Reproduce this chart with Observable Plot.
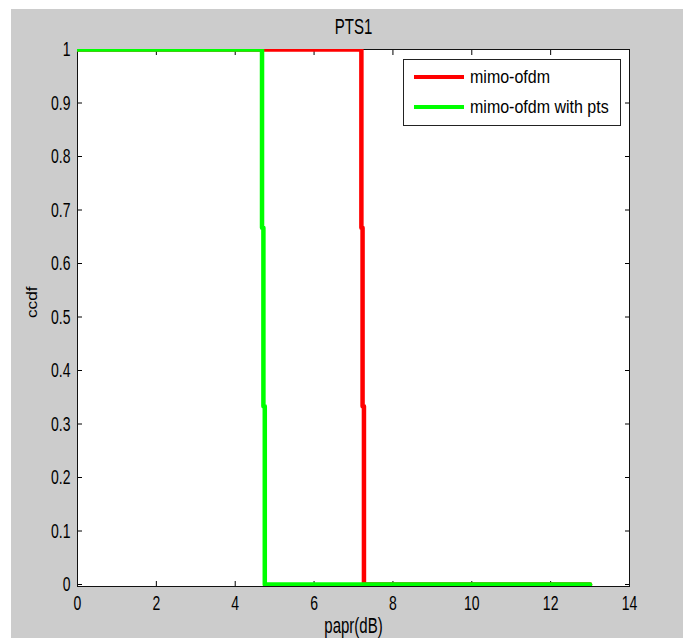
<!DOCTYPE html>
<html>
<head>
<meta charset="utf-8">
<script src="https://cdn.jsdelivr.net/npm/d3@7"></script>
<script src="https://cdn.jsdelivr.net/npm/@observablehq/plot@0.6"></script>
<style>
  html, body { margin: 0; padding: 0; background: #ffffff; }
  #fig { position: absolute; left: 11px; top: 9px; width: 672px; height: 629px; background: #cccccc; overflow: hidden; }
  #legend { position: absolute; left: 392px; top: 50px; width: 216px; height: 65px; background: #ffffff; border: 1px solid #222;
            font-family: "Liberation Sans", Arial, Helvetica, sans-serif; font-size: 16px; color: #000; }
  .row { position: absolute; left: 0; height: 20px; width: 216px; }
  .sw { position: absolute; left: 10px; top: 8px; width: 50px; height: 4px; }
  .lab { position: absolute; left: 66px; top: 0; line-height: 20px; white-space: nowrap; transform: scaleY(1.2); transform-origin: 0 50%; }
</style>
</head>
<body>
<div id="fig"></div>
<script>
// ---- data ----
const titleText = "PTS1";
const xLabel = "papr(dB)";
const yLabel = "ccdf";
const seriesNames = ["mimo-ofdm", "mimo-ofdm with pts"];
// step curve points (papr threshold in dB, ccdf value)
const paprOfdm = [0, 7.20, 7.23, 7.265, 13];
const ccdfOfdm = [1, 0.667, 0.333, 0, 0];
const paprPts = [0, 4.68, 4.715, 4.75, 13];
const ccdfPts = [1, 0.667, 0.333, 0, 0];
const xTicks = [0, 2, 4, 6, 8, 10, 12, 14];
const yTicks = [0, 0.1, 0.2, 0.3, 0.4, 0.5, 0.6, 0.7, 0.8, 0.9, 1];

// ---- styles ----
const colors = ["#ff0000", "#00ff00"];
const FONT = '"Liberation Sans", Arial, Helvetica, sans-serif';
const STRETCH = 1.45;

const ofdm = paprOfdm.map((p, i) => ({papr: p, ccdf: ccdfOfdm[i]}));
const pts = paprPts.map((p, i) => ({papr: p, ccdf: ccdfPts[i]}));
const fmt = d => String(d);

const svg = Plot.plot({
  width: 672,
  height: 629,
  marginLeft: 66,
  marginTop: 40,
  marginRight: 54,
  marginBottom: 52,
  style: {background: "transparent", fontFamily: FONT, fontSize: "14px", color: "#000", overflow: "visible"},
  x: {domain: [0, 14]},
  y: {domain: [0, 1], insetBottom: 2},
  marks: [
    Plot.frame({fill: "#ffffff", stroke: null}),
    Plot.axisX({anchor: "bottom", ticks: xTicks, tickSize: -5, tickPadding: 14, tickFormat: fmt, label: null, stroke: "#000", fill: "#000"}),
    Plot.axisX({anchor: "top", ticks: xTicks, tickSize: -5, tickFormat: () => "", label: null, stroke: "#000"}),
    Plot.axisY({anchor: "left", ticks: yTicks, tickSize: -5, tickPadding: 12, tickFormat: fmt, label: null, stroke: "#000", fill: "#000"}),
    Plot.axisY({anchor: "right", ticks: yTicks, tickSize: -5, tickFormat: () => "", label: null, stroke: "#000"}),
    Plot.frame({stroke: "#111", strokeWidth: 1}),
    Plot.line(ofdm, {x: "papr", y: "ccdf", curve: "step-after", stroke: colors[0], strokeWidth: 4.5, clip: "frame"}),
    Plot.line(pts, {x: "papr", y: "ccdf", curve: "step-after", stroke: colors[1], strokeWidth: 4.5, clip: "frame"}),
    Plot.text([titleText], {frameAnchor: "top", dy: -22, lineAnchor: "middle", fontSize: 15, fill: "#000"}),
    Plot.text([xLabel], {frameAnchor: "bottom", dy: 40, lineAnchor: "middle", fontSize: 15, fill: "#000"}),
    Plot.text([yLabel], {frameAnchor: "left", dx: -45, rotate: -90, lineAnchor: "middle", fontSize: 15, fill: "#000", fontWeight: "normal"})
  ]
});

// stretch glyphs vertically on screen, like the reference rendering
svg.querySelectorAll("text").forEach(t => {
  const tr = t.getAttribute("transform") || "";
  const m = tr.match(/^\s*translate\([^)]*\)/);
  const rotated = /rotate/.test(tr);
  const s = rotated ? `scale(1,1.15)` : `scale(1,${STRETCH})`;
  if (m) {
    t.setAttribute("transform", m[0] + " " + s + tr.slice(m[0].length));
  } else {
    const x = +(t.getAttribute("x") || 0), y = +(t.getAttribute("y") || 0);
    t.removeAttribute("x"); t.removeAttribute("y");
    t.setAttribute("transform", `translate(${x},${y}) ${s} ` + tr);
  }
});

const fig = document.getElementById("fig");
fig.appendChild(svg);

// legend
const legend = document.createElement("div");
legend.id = "legend";
seriesNames.forEach((name, i) => {
  const row = document.createElement("div");
  row.className = "row";
  row.style.top = (7 + i * 30) + "px";
  const sw = document.createElement("div");
  sw.className = "sw";
  sw.style.background = colors[i];
  const lab = document.createElement("span");
  lab.className = "lab";
  lab.textContent = name;
  row.appendChild(sw);
  row.appendChild(lab);
  legend.appendChild(row);
});
fig.appendChild(legend);
</script>
</body>
</html>
